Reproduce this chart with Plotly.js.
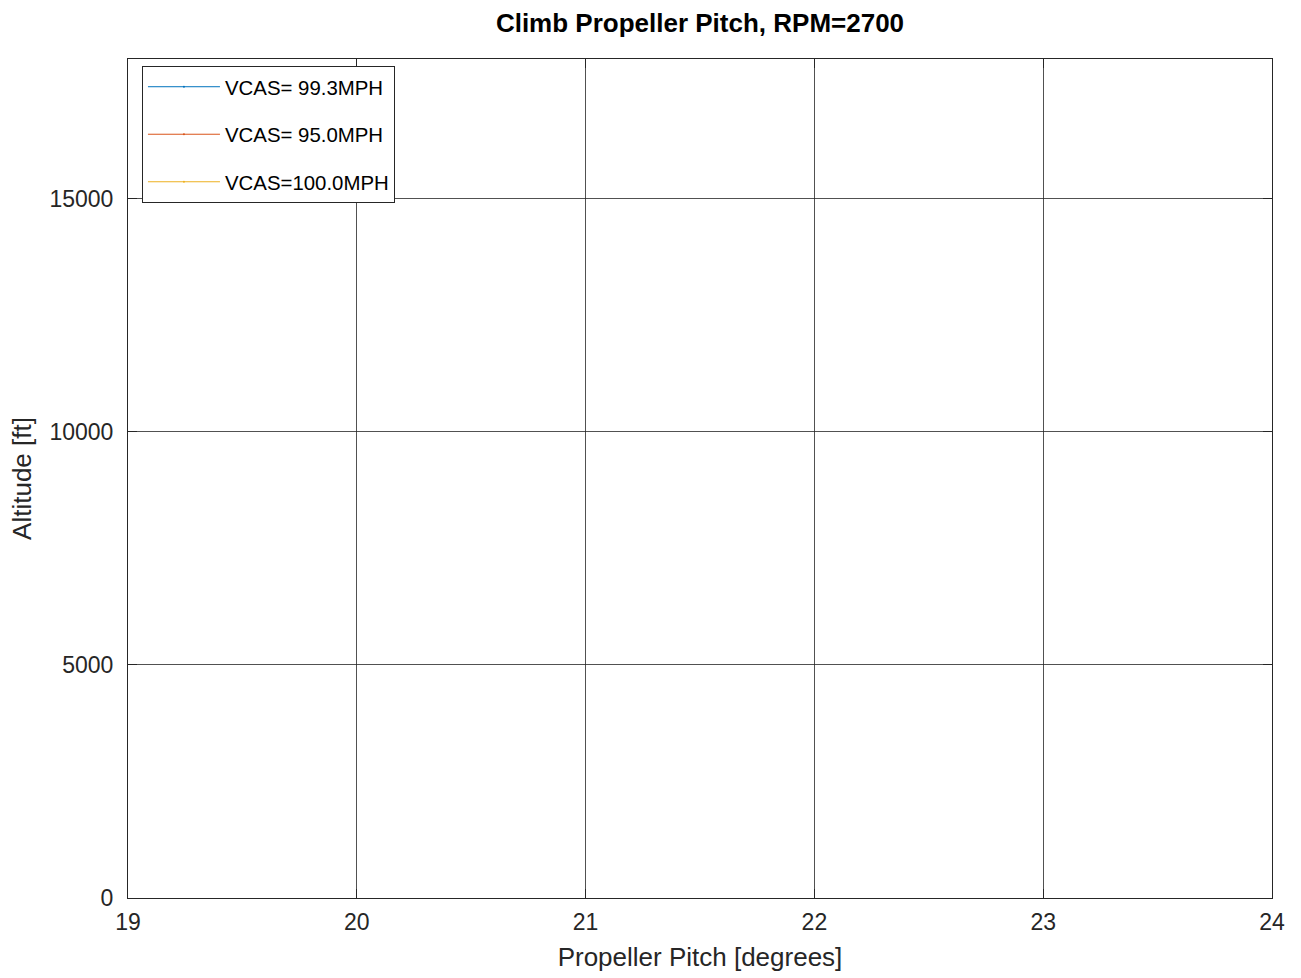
<!DOCTYPE html>
<html>
<head>
<meta charset="utf-8">
<script src="https://cdn.plot.ly/plotly-3.0.1.min.js"></script>
<style>html,body{margin:0;padding:0;background:#fff;}#chart{width:1301px;height:978px;}</style>
</head>
<body>
<div id="chart"></div>
<script>
// Series names (legend) and their data; the reference shows no visible marks (NaN data)
const seriesNames = ['VCAS= 99.3MPH', 'VCAS= 95.0MPH', 'VCAS=100.0MPH'];
const seriesColors = ['#0072BD', '#D95319', '#EDB120'];
const pitch_993 = [null];
const alt_993 = [null];
const pitch_950 = [null];
const alt_950 = [null];
const pitch_1000 = [null];
const alt_1000 = [null];
const xTicks = [19, 20, 21, 22, 23, 24];
const yTicks = [0, 5000, 10000, 15000];

const xs = [pitch_993, pitch_950, pitch_1000];
const ys = [alt_993, alt_950, alt_1000];

const traces = seriesNames.map((n, i) => ({
  type: 'scatter', mode: 'lines+markers', name: n,
  x: xs[i], y: ys[i],
  legendgroup: 'g' + i,
  line: {color: seriesColors[i], width: 1},
  marker: {color: seriesColors[i], size: 2}
}));

const layout = {
  width: 1301, height: 978,
  margin: {l: 128, r: 29, t: 59, b: 80},
  paper_bgcolor: '#fff', plot_bgcolor: '#fff',
  font: {family: 'Liberation Sans, Arial, sans-serif', color: '#000', size: 23},
  title: {text: '<b>Climb Propeller Pitch, RPM=2700</b>', xref: 'paper', x: 0.5, xanchor: 'center',
          yref: 'container', y: 0.977, yanchor: 'middle',
          font: {size: 26, color: '#000'}},
  xaxis: {
    range: [19, 24], tickvals: xTicks, ticktext: xTicks.map(String),
    showgrid: true, gridcolor: 'rgba(38,38,38,0.8)', gridwidth: 1,
    showline: true, linecolor: '#262626', linewidth: 1, mirror: 'ticks',
    ticks: 'inside', ticklen: 9, tickcolor: '#262626', zeroline: false,
    tickfont: {size: 23, color: '#262626'}, ticklabelstandoff: 3,
    title: {text: 'Propeller Pitch [degrees]', font: {size: 26, color: '#262626'}, standoff: 14}
  },
  yaxis: {
    range: [0, 18000], tickvals: yTicks, ticktext: yTicks.map(String),
    showgrid: true, gridcolor: 'rgba(38,38,38,0.8)', gridwidth: 1,
    showline: true, linecolor: '#262626', linewidth: 1, mirror: 'ticks',
    ticks: 'inside', ticklen: 9, tickcolor: '#262626', zeroline: false,
    tickfont: {size: 23, color: '#262626'}, ticklabelstandoff: 9,
    title: {text: 'Altitude [ft]', font: {size: 26, color: '#262626'}, standoff: 10}
  },
  showlegend: true,
  legend: {
    x: 0.0122, y: 0.9917, xanchor: 'left', yanchor: 'top',
    bgcolor: '#fff', bordercolor: '#262626', borderwidth: 1,
    font: {size: 20.4, color: '#000'}, tracegroupgap: 18, itemwidth: 72
  }
};

Plotly.newPlot('chart', traces, layout, {staticPlot: true, displayModeBar: false});
</script>
</body>
</html>
